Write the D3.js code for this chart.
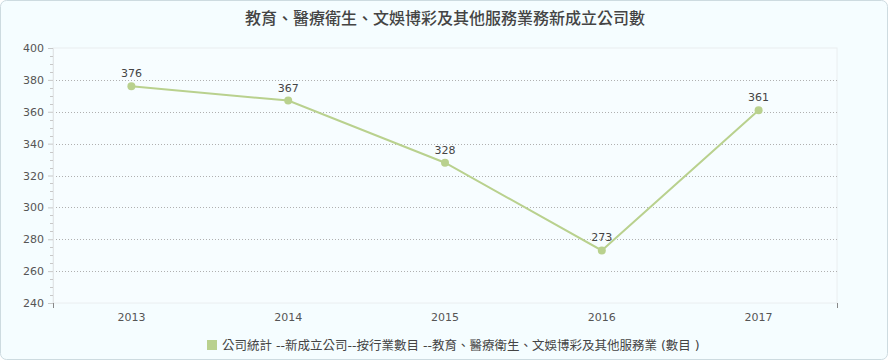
<!DOCTYPE html>
<html>
<head>
<meta charset="utf-8">
<script src="https://cdn.jsdelivr.net/npm/d3@7"></script>
<style>
  body { margin: 0; background: #fff; }
  #chart { width: 890px; height: 362px; }
  text { font-family: "DejaVu Sans", "Noto Sans CJK TC", sans-serif; }
</style>
</head>
<body>
<div id="chart"></div>
<script>
const title = "教育、醫療衛生、文娛博彩及其他服務業務新成立公司數";
const seriesName = "公司統計 --新成立公司--按行業數目 --教育、醫療衛生、文娛博彩及其他服務業 (數目 )";
const years = ["2013", "2014", "2015", "2016", "2017"];
const values = [376, 367, 328, 273, 361];
const yTicks = [240, 260, 280, 300, 320, 340, 360, 380, 400];

const W = 890, H = 362;
const margin = { top: 48, right: 53, bottom: 59, left: 53 };
const width = W - margin.left - margin.right;
const height = H - margin.top - margin.bottom;
const lineColor = "#b9d18e";

const svg = d3.select("#chart").append("svg")
  .attr("width", W)
  .attr("height", H);

// outer frame
svg.append("rect")
  .attr("x", 0.5).attr("y", 0.5)
  .attr("width", W - 3).attr("height", H - 3)
  .attr("rx", 6).attr("ry", 6)
  .attr("fill", "#f5fdff")
  .attr("stroke", "#cddbe0");

svg.append("text")
  .attr("x", W / 2)
  .attr("y", 24)
  .attr("text-anchor", "middle")
  .attr("font-size", "16px")
  .attr("font-weight", "500")
  .attr("fill", "#444")
  .style("font-family", "'Noto Sans CJK TC', sans-serif")
  .text(title);

const g = svg.append("g")
  .attr("transform", `translate(${margin.left},${margin.top})`);

const x = d3.scaleBand().domain(years).range([0, width]);
const y = d3.scaleLinear().domain([240, 400]).range([height, 0]);

// plot area
g.append("rect")
  .attr("x", 0).attr("y", 0)
  .attr("width", width).attr("height", height)
  .attr("fill", "#f7fdff")
  .attr("stroke", "#eaeef0");

// dotted gridlines
g.selectAll(".grid")
  .data(yTicks.filter(t => t > 240 && t < 400))
  .enter().append("line")
  .attr("x1", 0).attr("x2", width)
  .attr("y1", d => Math.round(y(d)) + 0.5)
  .attr("y2", d => Math.round(y(d)) + 0.5)
  .attr("stroke", "#b0b0b0")
  .attr("stroke-dasharray", "1,2");

// y axis with minor ticks
const minor = d3.range(240, 401, 5).filter(v => v % 20 !== 0);
g.selectAll(".minor")
  .data(minor)
  .enter().append("line")
  .attr("x1", -3).attr("x2", 0)
  .attr("y1", d => Math.round(y(d)) + 0.5)
  .attr("y2", d => Math.round(y(d)) + 0.5)
  .attr("stroke", "#c8c8c8");

const yAxis = g.append("g")
  .call(d3.axisLeft(y).tickValues(yTicks).tickSize(5).tickPadding(4));
yAxis.select(".domain").attr("stroke", "#e2e6e8");
yAxis.selectAll(".tick line").attr("stroke", "#c8c8c8");
yAxis.selectAll("text").attr("fill", "#555").attr("font-size", "11px")
  .style("font-family", "'DejaVu Sans', sans-serif");

// x axis: labels at band centres, ticks at both ends
const xAxis = g.append("g")
  .attr("transform", `translate(0,${height})`)
  .call(d3.axisBottom(x).tickSize(0).tickPadding(10));
xAxis.select(".domain").remove();
xAxis.selectAll("text").attr("fill", "#555").attr("font-size", "11px")
  .style("font-family", "'DejaVu Sans', sans-serif");
g.selectAll(".endtick")
  .data(x.range())
  .enter().append("line")
  .attr("x1", d => d + 0.5).attr("x2", d => d + 0.5)
  .attr("y1", height).attr("y2", height + 5)
  .attr("stroke", "#888");

const cx = d => x(d) + x.bandwidth() / 2;
const pts = years.map((yr, i) => ({ yr, v: values[i] }));

g.append("path")
  .datum(pts)
  .attr("fill", "none")
  .attr("stroke", lineColor)
  .attr("stroke-width", 2)
  .attr("d", d3.line().x(d => cx(d.yr)).y(d => y(d.v)));

g.selectAll(".dot")
  .data(pts)
  .enter().append("circle")
  .attr("cx", d => cx(d.yr))
  .attr("cy", d => y(d.v))
  .attr("r", 4)
  .attr("fill", lineColor);

g.selectAll(".val")
  .data(pts)
  .enter().append("text")
  .attr("x", d => cx(d.yr))
  .attr("y", d => y(d.v) - 9)
  .attr("text-anchor", "middle")
  .attr("font-size", "11px")
  .attr("fill", "#444")
  .text(d => d.v);

// legend
const legend = svg.append("g").attr("transform", "translate(207,340)");
legend.append("rect")
  .attr("x", 0).attr("y", 0)
  .attr("width", 10).attr("height", 10)
  .attr("fill", lineColor);
legend.append("text")
  .attr("x", 15).attr("y", 9.5)
  .attr("font-size", "12.5px")
  .attr("fill", "#444")
  .text(seriesName);
</script>
</body>
</html>
